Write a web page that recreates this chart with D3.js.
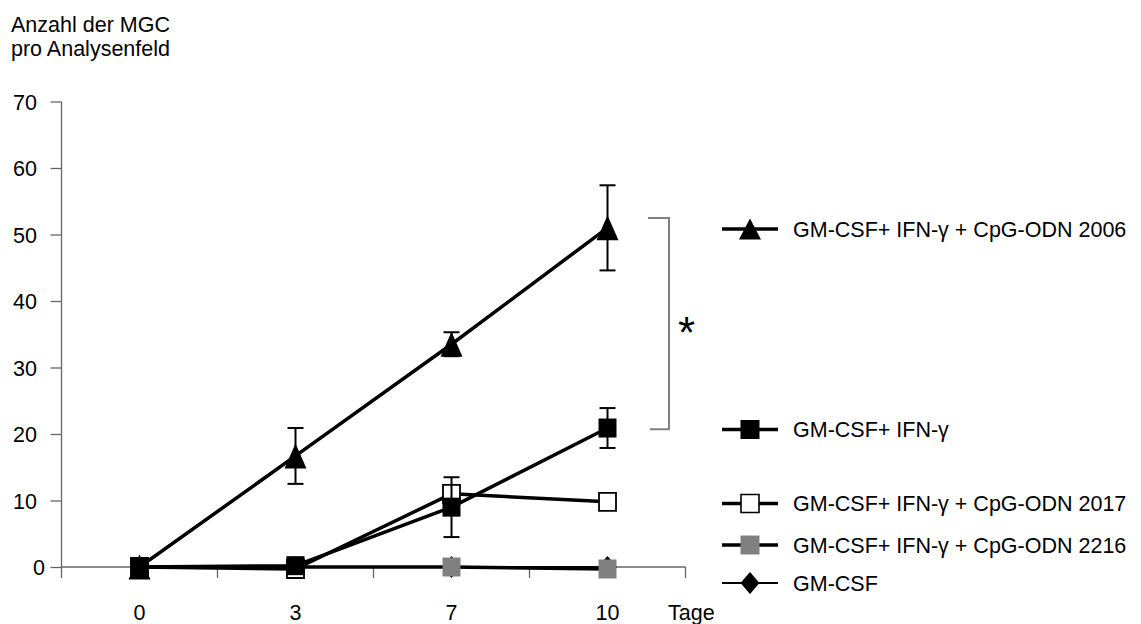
<!DOCTYPE html>
<html>
<head>
<meta charset="utf-8">
<script src="https://cdn.jsdelivr.net/npm/d3@7"></script>
<style>
  body { margin: 0; background: #fff; }
  svg { display: block; }
  text { font-family: "Liberation Sans", Arial, sans-serif; fill: #000; }
</style>
</head>
<body>
<svg id="chart" width="1141" height="624"></svg>
<script>
// Days of culture (category axis) and y tick values
const days = ["0", "3", "7", "10"];
const yTicks = [0, 10, 20, 30, 40, 50, 60, 70];

// Mean MGC count per analysis field, with error bars
const cpg2006 = [0, 16.7, 33.5, 51.0];
const cpg2006Err = [0, 4.2, 1.8, 6.4];
const ifnOnly = [0, 0.2, 9.0, 20.9];
const ifnOnlyErr = [0, 0, 4.5, 3.0];
const cpg2017 = [0, -0.3, 11.0, 9.8];
const cpg2216 = [0, 0, 0, -0.3];
const gmcsf = [0, 0, 0, 0];

// Significance bracket between the two day-10 groups
const bracket = [52.5, 20.7];

const labels = {
  cpg2006: "GM-CSF+ IFN-\u03b3 + CpG-ODN 2006",
  ifnOnly: "GM-CSF+ IFN-\u03b3",
  cpg2017: "GM-CSF+ IFN-\u03b3 + CpG-ODN 2017",
  cpg2216: "GM-CSF+ IFN-\u03b3 + CpG-ODN 2216",
  gmcsf: "GM-CSF"
};

const svg = d3.select("#chart");
const FS = "21.5px";
const axisColor = "#666";

const x = d3.scaleBand().domain(days).range([61.5, 685.5]).padding(0);
const cx = d => x(d) + x.bandwidth() / 2;
const y = d3.scaleLinear().domain([0, 70]).range([567, 101.5]);

// Marker shapes centred on (0,0)
function shape(type, w, h) {
  const a = w / 2, b = h / 2;
  if (type === "triangle") return `M0,${-b}L${a},${b}L${-a},${b}Z`;
  if (type === "diamond") return `M0,${-b}L${a},0L0,${b}L${-a},0Z`;
  return `M${-a},${-b}H${a}V${b}H${-a}Z`;
}

// Y axis title
const title = svg.append("text").attr("x", 11).style("font-size", FS);
title.append("tspan").attr("x", 11).attr("y", 31.5).text("Anzahl der MGC");
title.append("tspan").attr("x", 11).attr("y", 56).text("pro Analysenfeld");

// Y axis
const yAxis = svg.append("g").attr("transform", "translate(61.5,0)")
  .call(d3.axisLeft(y).tickValues(yTicks).tickSize(11).tickSizeOuter(0).tickPadding(13.5).tickFormat(d3.format("d")));
yAxis.select(".domain").remove();
yAxis.selectAll(".tick line").attr("stroke", axisColor).attr("stroke-width", 1.3);
yAxis.selectAll(".tick text").style("font-size", FS).style("font-family", "Liberation Sans, Arial, sans-serif")
  .attr("dy", "0.36em")
  .attr("x", d => d === 0 ? -16.5 : -24.5);
svg.append("line").attr("x1", 61.5).attr("x2", 61.5).attr("y1", y(70)).attr("y2", y(0) + 11)
  .attr("stroke", axisColor).attr("stroke-width", 1.3);

// X axis
const xAxis = svg.append("g").attr("transform", `translate(0,${y(0)})`)
  .call(d3.axisBottom(x).tickSize(0).tickSizeOuter(0));
xAxis.select(".domain").remove();
xAxis.selectAll(".tick text").style("font-size", FS).style("font-family", "Liberation Sans, Arial, sans-serif")
  .attr("y", 53).attr("dy", 0);
svg.append("line").attr("x1", x.range()[0]).attr("x2", x.range()[1]).attr("y1", y(0)).attr("y2", y(0))
  .attr("stroke", axisColor).attr("stroke-width", 1.3);
const edges = days.slice(1).map(d => x(d)).concat([x.range()[1]]);
svg.selectAll(".xtick").data(edges).join("line").attr("class", "xtick")
  .attr("x1", d => d).attr("x2", d => d).attr("y1", y(0)).attr("y2", y(0) + 11)
  .attr("stroke", axisColor).attr("stroke-width", 1.3);
svg.append("text").attr("x", 668).attr("y", y(0) + 53).style("font-size", FS).text("Tage");

// Series
const line = d3.line().x((d, i) => cx(days[i])).y(d => y(d));

function drawSeries(vals, errs, opts) {
  const g = svg.append("g");
  g.append("path").datum(vals).attr("d", line).attr("fill", "none")
    .attr("stroke", "#000").attr("stroke-width", opts.lw).attr("stroke-linejoin", "round");
  if (errs) {
    const eb = vals.map((v, i) => ({ d: days[i], v, e: errs[i] })).filter(o => o.e > 0);
    eb.forEach(o => {
      const xx = cx(o.d);
      g.append("line").attr("x1", xx).attr("x2", xx).attr("y1", y(o.v + o.e)).attr("y2", y(o.v - o.e))
        .attr("stroke", "#000").attr("stroke-width", 2);
      [o.v + o.e, o.v - o.e].forEach(t => {
        g.append("line").attr("x1", xx - 8).attr("x2", xx + 8).attr("y1", y(t)).attr("y2", y(t))
          .attr("stroke", "#000").attr("stroke-width", 2);
      });
    });
  }
  g.selectAll(".m").data(vals).join("path").attr("class", "m")
    .attr("transform", (d, i) => `translate(${cx(days[i])},${y(d)})`)
    .attr("d", shape(opts.shape, opts.w, opts.h))
    .attr("fill", opts.fill).attr("stroke", opts.stroke || "none").attr("stroke-width", opts.sw || 0);
}

drawSeries(gmcsf, null, { lw: 2, shape: "diamond", w: 19, h: 22, fill: "#000" });
drawSeries(cpg2006, cpg2006Err, { lw: 3.5, shape: "triangle", w: 22, h: 25, fill: "#000" });
drawSeries(cpg2216, null, { lw: 3.5, shape: "square", w: 18, h: 19, fill: "#808080" });
drawSeries(cpg2017, null, { lw: 3.5, shape: "square", w: 17, h: 18, fill: "#fff", stroke: "#000", sw: 1.8 });
drawSeries(ifnOnly, ifnOnlyErr, { lw: 3.5, shape: "square", w: 18, h: 19, fill: "#000" });

// Significance bracket and asterisk
const bx = 669;
svg.append("path")
  .attr("d", `M${bx - 21},${y(bracket[0])}H${bx}V${y(bracket[1])}H${bx - 19}`)
  .attr("fill", "none").attr("stroke", "#808080").attr("stroke-width", 2);
svg.append("text").attr("x", 686.5).attr("y", 348).attr("text-anchor", "middle")
  .style("font-size", "44px").text("*");

// Legend
const legend = [
  { key: "cpg2006", y: 229, shape: "triangle", w: 22, h: 21, fill: "#000", lw: 3.5 },
  { key: "ifnOnly", y: 429.5, shape: "square", w: 19, h: 19, fill: "#000", lw: 3.5 },
  { key: "cpg2017", y: 503.5, shape: "square", w: 18, h: 18, fill: "#fff", stroke: "#000", sw: 1.6, lw: 3.5 },
  { key: "cpg2216", y: 545, shape: "square", w: 19, h: 19, fill: "#808080", lw: 3.5 },
  { key: "gmcsf", y: 583, shape: "diamond", w: 19, h: 22, fill: "#000", lw: 2 }
];
const lg = svg.append("g");
legend.forEach(it => {
  lg.append("line").attr("x1", 722).attr("x2", 778).attr("y1", it.y).attr("y2", it.y)
    .attr("stroke", "#000").attr("stroke-width", it.lw);
  lg.append("path").attr("transform", `translate(750,${it.y})`).attr("d", shape(it.shape, it.w, it.h))
    .attr("fill", it.fill).attr("stroke", it.stroke || "none").attr("stroke-width", it.sw || 0);
  lg.append("text").attr("x", 793).attr("y", it.y).attr("dy", "0.36em").style("font-size", FS).text(labels[it.key]);
});
</script>
</body>
</html>
